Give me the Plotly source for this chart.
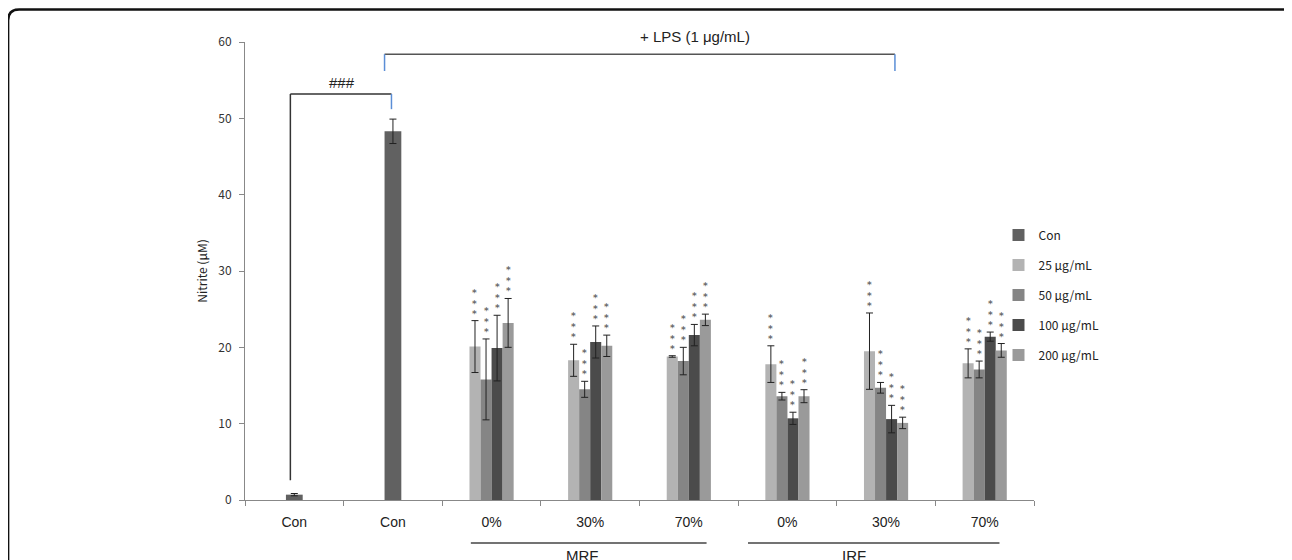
import plotly.graph_objects as go

# ---- data ----
categories = ["Con", "Con", "0%", "30%", "70%", "0%", "30%", "70%"]
con_vals = [0.7, 48.3]
con_err = [0.15, 1.6]

series_names = ["25 μg/mL", "50 μg/mL", "100 μg/mL", "200 μg/mL"]
# order of groups: MRF 0%, MRF 30%, MRF 70%, IRF 0%, IRF 30%, IRF 70%
v25 = [20.1, 18.3, 18.8, 17.8, 19.5, 17.9]
e25 = [3.4, 2.1, 0.1, 2.4, 5.0, 1.9]
v50 = [15.8, 14.5, 18.2, 13.6, 14.7, 17.1]
e50 = [5.3, 1.05, 1.8, 0.5, 0.7, 1.1]
v100 = [19.9, 20.7, 21.6, 10.7, 10.6, 21.4]
e100 = [4.3, 2.1, 1.4, 0.8, 1.8, 0.6]
v200 = [23.2, 20.2, 23.6, 13.6, 10.1, 19.6]
e200 = [3.2, 1.4, 0.75, 0.85, 0.75, 0.9]
sig = ["***"] * 6

series_vals = [v25, v50, v100, v200]
series_errs = [e25, e50, e100, e200]
colors = ["#b3b3b3", "#858585", "#4b4b4b", "#9a9a9a"]
con_color = "#616161"

x_con = [0, 1]
x_grp = [2, 3, 4, 5, 6, 7]

BW = 0.112
fig = go.Figure()

fig.add_trace(go.Bar(
    x=x_con, y=con_vals, name="Con", width=0.17, offset=-0.085,
    marker=dict(color=con_color, line=dict(width=0)),
    error_y=dict(type="data", array=con_err, color="#222", thickness=1, width=3.5),
    legendgroup="g0",
))
for i, (nm, vals, errs, col) in enumerate(zip(series_names, series_vals, series_errs, colors)):
    fig.add_trace(go.Bar(
        x=x_grp, y=vals, name=nm, width=BW, offset=-2 * BW + i * BW,
        marker=dict(color=col, line=dict(width=0)),
        error_y=dict(type="data", array=errs, color="#222", thickness=1, width=3.5),
        legendgroup="g%d" % (i + 1),
    ))

annotations = []
# significance stars (one stacked text per bar, tight line spacing)
STAR = '<span style="font-size:9px">%s</span>'
for i, (vals, errs) in enumerate(zip(series_vals, series_errs)):
    for j, xg in enumerate(x_grp):
        xc = xg - 2 * BW + i * BW + BW / 2
        annotations.append(dict(
            x=xc, y=vals[j] + errs[j], xref="x", yref="y",
            text="<br>".join(STAR % c for c in sig[j]),
            showarrow=False, yanchor="bottom", yshift=0,
            font=dict(size=8.2, color="#6a6a6a", family="DejaVu Sans", weight="bold"),
        ))

annotations += [
    dict(x=0.48, y=53.3, xref="x", yref="y", text="###", showarrow=False,
         yanchor="bottom", font=dict(size=15, color="#222", family="Liberation Sans")),
    dict(x=4.06, y=1.011, xref="x", yref="paper", text="+ LPS (1 μg/mL)", showarrow=False,
         yanchor="middle", font=dict(size=15, color="#222", family="Liberation Sans")),
    dict(x=2.92, y=-0.121, xref="x", yref="paper", text="MRF", showarrow=False,
         yanchor="middle", font=dict(size=15, color="#222", family="Liberation Sans")),
    dict(x=5.67, y=-0.121, xref="x", yref="paper", text="IRF", showarrow=False,
         yanchor="middle", font=dict(size=15, color="#222", family="Liberation Sans")),
]

blk = dict(color="#333", width=1.5)
blue = dict(color="#5b8ed6", width=1.5)
shapes = [
    # ### bracket
    dict(type="line", xref="x", yref="y", x0=-0.04, x1=-0.04, y0=2.6, y1=53.2, line=blk),
    dict(type="line", xref="x", yref="y", x0=-0.04, x1=0.985, y0=53.2, y1=53.2, line=blk),
    dict(type="line", xref="x", yref="y", x0=0.985, x1=0.985, y0=53.2, y1=51.2, line=blue),
    # LPS bracket
    dict(type="line", xref="x", yref="y", x0=0.915, x1=6.09, y0=58.4, y1=58.4, line=dict(color="#555", width=1.5)),
    dict(type="line", xref="x", yref="y", x0=0.915, x1=0.915, y0=58.4, y1=56.2, line=blue),
    dict(type="line", xref="x", yref="y", x0=6.09, x1=6.09, y0=58.4, y1=56.2, line=blue),
    # group underlines
    dict(type="line", xref="x", yref="paper", x0=1.79, x1=4.18, y0=-0.094, y1=-0.094, line=dict(color="#444", width=1.5)),
    dict(type="line", xref="x", yref="paper", x0=4.6, x1=7.15, y0=-0.094, y1=-0.094, line=dict(color="#444", width=1.5)),
]

# rounded frame around the figure (paper coords; page offset of 8px by body margin)
W_PLOT, H_PLOT, L, B = 781.0, 458.0, 245.0, 500.0
def px(p):
    return (p - L) / W_PLOT
def py(p):
    return (B - p) / H_PLOT
x0, x1, yt, yb = px(10.5), px(1289), py(9.5), py(580)
rx, ry = 11 / W_PLOT, 11 / H_PLOT
path = (f"M {x0},{yb} L {x0},{yt - ry} Q {x0},{yt} {x0 + rx},{yt} "
        f"L {x1 - rx},{yt} Q {x1},{yt} {x1},{yt - ry} L {x1},{yb}")
shapes.append(dict(type="path", xref="paper", yref="paper", path=path,
                   line=dict(color="#111", width=2.5)))

fig.update_layout(
    width=1284, height=552,
    margin=dict(l=237, r=258, t=34, b=60),
    paper_bgcolor="white", plot_bgcolor="white",
    barmode="overlay",
    showlegend=True,
    legend=dict(x=0.955, xanchor="left", y=0.61, yanchor="top",
                font=dict(size=12, color="#222", family="Noto Sans CJK KR"),
                tracegroupgap=11, bgcolor="rgba(0,0,0,0)", itemwidth=30),
    annotations=annotations,
    shapes=shapes,
    xaxis=dict(
        range=[-0.5, 7.5], tickmode="array", tickvals=list(range(8)), ticktext=categories,
        ticks="outside", ticklen=0, tickcolor="rgba(0,0,0,0)",
        minor=dict(tickmode="array", tickvals=[v - 0.5 for v in range(9)], ticks="outside",
                   ticklen=5, tickcolor="#888", tickwidth=1),
        showline=True, linecolor="#888", linewidth=1, showgrid=False, zeroline=False,
        tickfont=dict(size=14, color="#222", family="Liberation Sans"),
        ticklabelstandoff=9,
    ),
    yaxis=dict(
        range=[0, 60], dtick=10, tick0=0, ticks="outside", ticklen=5, tickcolor="#888",
        showline=True, linecolor="#888", linewidth=1, showgrid=False, zeroline=False,
        tickfont=dict(size=12, color="#333", family="Noto Sans CJK KR"),
        ticklabelstandoff=5,
        title=dict(text="Nitrite (μM)", standoff=8,
                   font=dict(size=12, color="#222", family="Noto Sans CJK KR")),
    ),
)

fig.write_html("out.html")
